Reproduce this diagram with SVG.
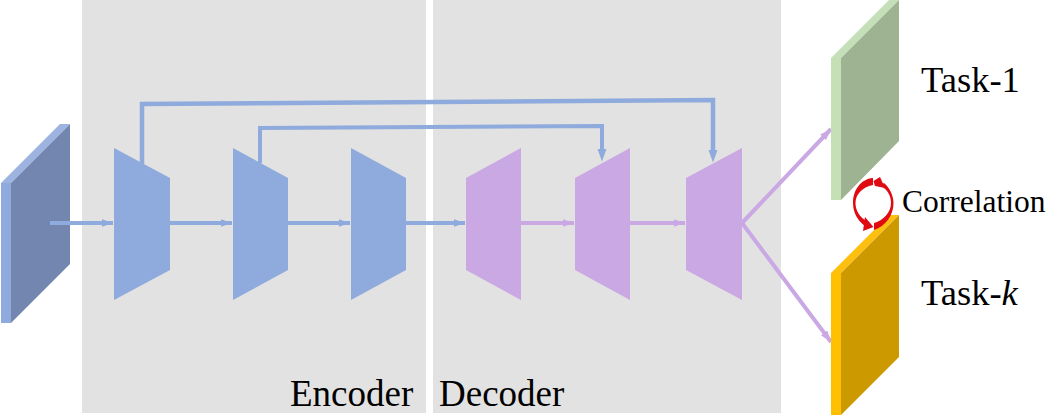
<svg xmlns="http://www.w3.org/2000/svg" width="1050" height="416" viewBox="0 0 1050 416">
<defs>
<marker id="ab" markerUnits="userSpaceOnUse" markerWidth="12" markerHeight="9" refX="11.500" refY="4" orient="auto"><path d="M0 0L11.500 4L0 8z" fill="#8faadc"/></marker>
<marker id="ap" markerUnits="userSpaceOnUse" markerWidth="12" markerHeight="9" refX="11.500" refY="4" orient="auto"><path d="M0 0L11.500 4L0 8z" fill="#c9a8e4"/></marker>
</defs>
<style>
.blue{fill:#8faadc}.purple{fill:#c9a8e4}.red{fill:#e00b12}
.cb{fill:none;stroke:#8faadc;stroke-width:4;marker-end:url(#ab)}
.cp{fill:none;stroke:#c9a8e4;stroke-width:4;marker-end:url(#ap)}
.cs{fill:none;stroke:#8faadc;stroke-width:4}
.t{font-family:"Liberation Serif","Times New Roman",serif;fill:#000}
</style>
<g id="panels">
<rect x="82" y="0" width="344" height="413" fill="#e2e2e2"/>
<rect x="433" y="0" width="348" height="413" fill="#e2e2e2"/>
</g>
<g id="input">
<path d="M1 183L60 124H70L11 183z" fill="#9db4e0"/>
<rect x="1" y="183" width="10" height="140" fill="#8faadc"/>
<path d="M11 183L70 124V264L11 323z" fill="#7286b0"/>
</g>
<g id="connectors">
<path class="cs" style="stroke-width:4.500" d="M142 164V104L713 100V152"/>
<path class="cs" d="M260 163V128L602 126V152"/>
<path d="M713 162.500l-4.500-12.500h9z" fill="#8faadc"/>
<path d="M602 161.500l-4.500-12.500h9z" fill="#8faadc"/>
<path class="cb" d="M50 223H113"/>
<path class="cb" d="M170 223H232"/>
<path class="cb" d="M288 223H350"/>
<path class="cb" d="M406 223H465"/>
<path class="cp" d="M521 223H574"/>
<path class="cp" d="M630 223H685"/>
<path class="cp" d="M742 223L831 129"/>
<path class="cp" d="M742 223L831 342"/>
</g>
<g id="enc1"><path class="blue" d="M114 148L170 178V270L114 300z"/></g>
<g id="enc2"><path class="blue" d="M233 148L288 178V270L233 300z"/></g>
<g id="enc3"><path class="blue" d="M351 148L406 178V270L351 300z"/></g>
<g id="dec1"><path class="purple" d="M466 178L521 148V300L466 270z"/></g>
<g id="dec2"><path class="purple" d="M575 178L630 148V300L575 270z"/></g>
<g id="dec3"><path class="purple" d="M686 178L742 148V300L686 270z"/></g>
<g id="task1">
<path d="M831 58L889 0H899L841 58z" fill="#c5dfb9"/>
<rect x="831" y="58" width="10" height="142" fill="#c5e0b4"/>
<path d="M841 58L899 0V141L841 200z" fill="#9eb391"/>
</g>
<g id="taskk">
<path d="M831 273L889 215H899L841 273z" fill="#fdc010"/>
<rect x="831" y="273" width="10" height="142" fill="#ffc000"/>
<path d="M841 273L899 215V357L841 415z" fill="#cc9a00"/>
</g>
<g id="correlation">
<path class="red" d="M873 178C860 179 853 191 853 203C853 212 857 220 865 226L868 222C859 217 855.500 210 855.500 203C855.500 195 862 187 873 185z"/>
<path class="red" d="M865 217L873.500 227L863 231z"/>
<path class="red" d="M874 223C884 220 891 212 891 203C891 196 888 190 880 185L884 183C890 188 893.500 196 893.500 203C893.500 215 886 226 874 230z"/>
<path class="red" d="M873.500 181L880 177L885 188L875 186z"/>
</g>
<g id="labels">
<text class="t" x="290" y="406" font-size="37">Encoder</text>
<text class="t" x="439" y="406" font-size="37">Decoder</text>
<text class="t" x="921" y="92" font-size="36.500">Task-1</text>
<text class="t" x="921" y="305" font-size="36.500">Task-<tspan font-style="italic">k</tspan></text>
<text class="t" x="902" y="212" font-size="31.500">Correlation</text>
</g>
</svg>
